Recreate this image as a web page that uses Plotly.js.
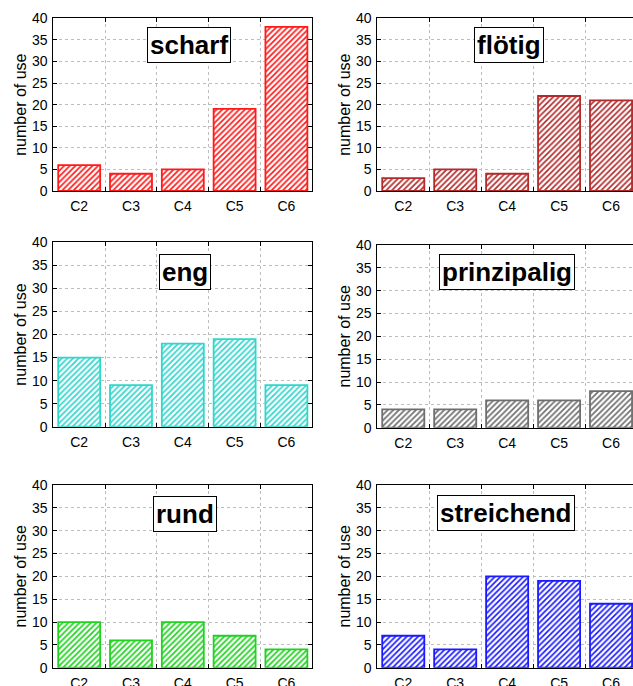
<!DOCTYPE html>
<html><head><meta charset="utf-8">
<script src="https://cdn.plot.ly/plotly-3.0.1.min.js"></script>
<style>html,body{margin:0;padding:0;overflow:hidden;background:#fff;}</style>
</head><body>
<div id="chart"></div>
<script>
const categories = ["C2","C3","C4","C5","C6"];
const panelNames = ["scharf","flötig","eng","prinzipalig","rund","streichend"];
const scharf = [6,4,5,19,38];
const floetig = [3,5,4,22,21];
const eng = [15,9,18,19,9];
const prinzipalig = [4,4,6,6,8];
const rund = [10,6,10,7,4];
const streichend = [7,4,20,19,14];
const yTicks = [0,5,10,15,20,25,30,35,40];
const yLabel = "number of use";

const series = [scharf, floetig, eng, prinzipalig, rund, streichend];
const colors = ["#ff1a1a","#b22a2a","#2fd6cc","#6e6e6e","#1ed21e","#1a1aff"];

const W = 637, H = 686;
// pixel boxes [left, right, top, bottom]
const boxes = [
  [53.3, 312.3, 18.3, 191],
  [377.3, 637, 18.3, 191],
  [53.3, 312.3, 242.3, 426.7],
  [377.3, 637, 245, 427.7],
  [53.3, 312.3, 485, 667.7],
  [377.3, 637, 485, 667.7]
];
const labelPos = [
  [189.2, 45.3],[509, 45.2],[184.5, 271.5],[507, 271.7],[184.8, 513.7],[505.8, 513.2]
];

const font = "Liberation Sans, Arial, sans-serif";
const data = [];
const layout = {
  width: W, height: H,
  margin: {l:0, r:0, t:0, b:0},
  paper_bgcolor: "#fff", plot_bgcolor: "#fff",
  showlegend: false,
  bargap: 0.19,
  font: {family: font, color: "#000"},
  annotations: []
};

for (let i = 0; i < 6; i++) {
  const n = i === 0 ? "" : String(i + 1);
  data.push({
    type: "bar", x: categories, y: series[i],
    xaxis: "x" + n, yaxis: "y" + n,
    marker: {
      color: colors[i],
      line: {color: colors[i], width: 1.8},
      pattern: {shape: "/", fgcolor: colors[i], bgcolor: "#fff", size: 4, solidity: 0.42}
    },
    hoverinfo: "none"
  });
  const b = boxes[i];
  layout["xaxis" + n] = {
    domain: [b[0]/W, b[1]/W],
    anchor: "y" + n,
    type: "category",
    tickson: "boundaries",
    ticks: "inside", ticklen: 4, tickcolor: "#000",
    showline: true, linecolor: "#000", linewidth: 1, mirror: "ticks",
    showgrid: true, gridcolor: "#bdbdbd", griddash: "dot", gridwidth: 1,
    tickfont: {size: 14, family: font, color: "#000"},
    ticklabelstandoff: 2,
    fixedrange: true
  };
  layout["yaxis" + n] = {
    domain: [1 - b[3]/H, 1 - b[2]/H],
    anchor: "x" + n,
    range: [0, 40],
    tickvals: yTicks,
    ticks: "inside", ticklen: 4, tickcolor: "#000",
    showline: true, linecolor: "#000", linewidth: 1, mirror: "ticks",
    showgrid: true, gridcolor: "#bdbdbd", griddash: "dot", gridwidth: 1,
    zeroline: false,
    tickfont: {size: 14, family: font, color: "#000"},
    ticklabelstandoff: 2,
    title: {text: yLabel, font: {size: 16, family: font, color: "#000"}, standoff: 1},
    fixedrange: true
  };
  layout.annotations.push({
    xref: "paper", yref: "paper",
    x: labelPos[i][0]/W, y: 1 - labelPos[i][1]/H,
    xanchor: "center", yanchor: "middle",
    text: "<b>" + panelNames[i] + "</b>",
    showarrow: false,
    font: {size: 26, family: font, color: "#000"},
    bgcolor: "#fff", bordercolor: "#000", borderwidth: 1, borderpad: 2
  });
}

Plotly.newPlot("chart", data, layout, {displayModeBar: false, staticPlot: true});
</script>
</body></html>
